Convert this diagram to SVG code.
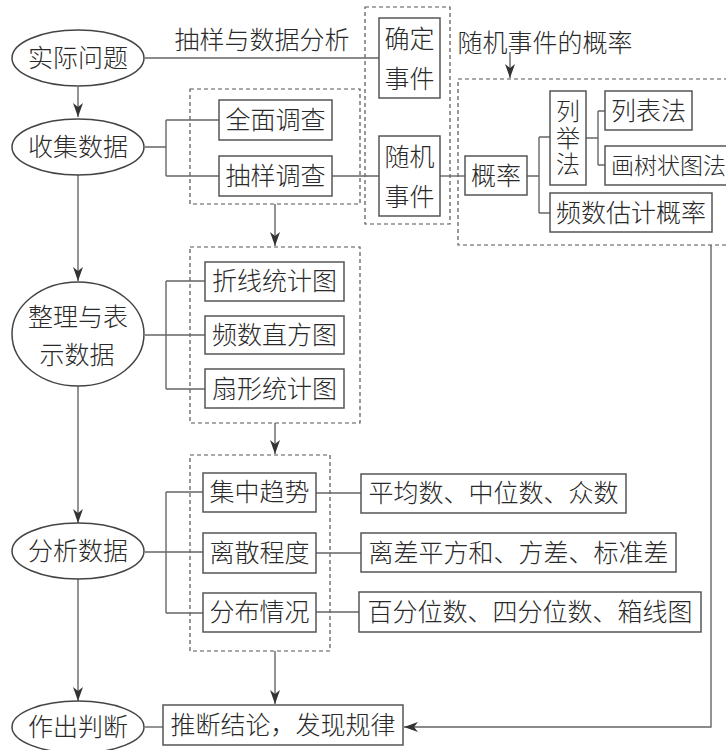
<svg xmlns="http://www.w3.org/2000/svg" width="726" height="750" viewBox="0 0 726 750">
<defs>
<marker id="arr" viewBox="0 0 14 10" refX="14" refY="5" markerWidth="14" markerHeight="10" markerUnits="userSpaceOnUse" orient="auto">
<path d="M0,0 L14,5 L0,10 L4,5 z" fill="#333"/>
</marker>
</defs>
<style>
text{font-family:"Noto Sans CJK SC","Noto Sans CJK JP",sans-serif;font-size:25px;font-weight:300;fill:#2a2a2a;text-anchor:middle}
.box{fill:#fff;stroke:#555;stroke-width:1.5}
.ell{fill:#fff;stroke:#444;stroke-width:1.5}
.dash{fill:none;stroke:#555;stroke-width:1.2;stroke-dasharray:4 3}
.ln{fill:none;stroke:#666;stroke-width:1.4}
.ar{fill:none;stroke:#666;stroke-width:1.4;marker-end:url(#arr)}
</style>
<rect width="726" height="750" fill="#fff"/>

<g id="groups">
<rect class="dash" x="190" y="89" width="170" height="115"/>
<rect class="dash" x="365" y="7" width="85" height="217"/>
<rect class="dash" x="458" y="79" width="275" height="166"/>
<rect class="dash" x="190" y="247" width="170" height="176"/>
<rect class="dash" x="190" y="455" width="140" height="196"/>
</g>

<g id="connectors">
<path class="ln" d="M145,58 H379"/>
<path class="ar" d="M78,87 V117"/>
<path class="ln" d="M145,147 H166 M166,120 V176 M166,120 H219 M166,176 H219"/>
<path class="ln" d="M332,176 H379"/>
<path class="ln" d="M440,176 H465"/>
<path class="ln" d="M527,176 H539 M539,137 V213 M539,137 H550 M539,213 H550"/>
<path class="ln" d="M586,138 H598 M598,111 V165 M598,111 H605 M598,165 H605"/>
<path class="ar" d="M510,52 V78"/>
<path class="ar" d="M275,204 V246"/>
<path class="ar" d="M78,175 V281"/>
<path class="ln" d="M145,335 H205 M166,281 V389 M166,281 H205 M166,389 H205"/>
<path class="ar" d="M275,423 V454"/>
<path class="ar" d="M78,386 V523"/>
<path class="ln" d="M145,552 H203 M166,492 V613 M166,492 H203 M166,613 H203"/>
<path class="ln" d="M316,493 H361 M316,553 H361 M316,612 H359"/>
<path class="ar" d="M78,579 V701"/>
<path class="ar" d="M275,651 V704"/>
<path class="ln" d="M145,727 H163"/>
<path class="ar" d="M711,245 V727 H404"/>
</g>

<text id="label-sampling" x="262" y="49">抽样与数据分析</text>
<text id="label-random" x="545" y="52">随机事件的概率</text>

<g id="n-shiji"><ellipse class="ell" cx="78" cy="58" rx="66" ry="28"/><text x="78" y="67">实际问题</text></g>
<g id="n-shouji"><ellipse class="ell" cx="78" cy="147" rx="66" ry="28"/><text x="78" y="156">收集数据</text></g>
<g id="n-zhengli"><ellipse class="ell" cx="78" cy="334" rx="66" ry="52"/><text x="78" y="326">整理与表</text><text x="77" y="364">示数据</text></g>
<g id="n-fenxi"><ellipse class="ell" cx="78" cy="551" rx="66" ry="28"/><text x="78" y="560">分析数据</text></g>
<g id="n-zuochu"><ellipse class="ell" cx="78" cy="727" rx="66" ry="26"/><text x="78" y="736">作出判断</text></g>

<g id="n-quanmian"><rect class="box" x="219" y="100" width="113" height="40"/><text x="275.5" y="129">全面调查</text></g>
<g id="n-chouyang"><rect class="box" x="219" y="156" width="113" height="40"/><text x="275.5" y="185">抽样调查</text></g>
<g id="n-queding"><rect class="box" x="379" y="18" width="61" height="80"/><text x="409.5" y="48">确定</text><text x="409.5" y="88">事件</text></g>
<g id="n-suiji"><rect class="box" x="379" y="136" width="61" height="80"/><text x="409.5" y="166">随机</text><text x="409.5" y="206">事件</text></g>
<g id="n-gailv"><rect class="box" x="465" y="156" width="62" height="39"/><text x="496" y="185">概率</text></g>
<g id="n-lieju"><rect class="box" x="550" y="91" width="36" height="94"/><text x="568" y="139" style="font-size:24px;writing-mode:vertical-rl;letter-spacing:2.5px">列举法</text></g>
<g id="n-liebiao"><rect class="box" x="605" y="91" width="87" height="39"/><text x="648.5" y="120">列表法</text></g>
<g id="n-shuzhuang"><rect class="box" x="605" y="146" width="135" height="39"/><text x="611" y="173.5" style="text-anchor:start;font-size:23px">画树状图法</text></g>
<g id="n-pinshu"><rect class="box" x="550" y="193" width="162" height="39"/><text x="631" y="222">频数估计概率</text></g>

<g id="n-zhexian"><rect class="box" x="205" y="262" width="139" height="39"/><text x="274.5" y="290">折线统计图</text></g>
<g id="n-zhifang"><rect class="box" x="205" y="316" width="139" height="38"/><text x="274.5" y="344">频数直方图</text></g>
<g id="n-shanxing"><rect class="box" x="205" y="369" width="139" height="39"/><text x="274.5" y="398">扇形统计图</text></g>

<g id="n-jizhong"><rect class="box" x="203" y="473" width="113" height="39"/><text x="259.5" y="501">集中趋势</text></g>
<g id="n-lisan"><rect class="box" x="203" y="533" width="113" height="40"/><text x="259.5" y="562">离散程度</text></g>
<g id="n-fenbu"><rect class="box" x="203" y="593" width="113" height="39"/><text x="259.5" y="621">分布情况</text></g>

<g id="n-pingjun"><rect class="box" x="361" y="474" width="265" height="39"/><text x="493.5" y="502">平均数、中位数、众数</text></g>
<g id="n-licha"><rect class="box" x="361" y="533" width="315" height="39"/><text x="518.5" y="562">离差平方和、方差、标准差</text></g>
<g id="n-baifen"><rect class="box" x="359" y="592" width="342" height="40"/><text x="530" y="621">百分位数、四分位数、箱线图</text></g>

<g id="n-tuiduan"><rect class="box" x="163" y="705" width="240" height="40"/><text x="283" y="734">推断结论，发现规律</text></g>
</svg>
